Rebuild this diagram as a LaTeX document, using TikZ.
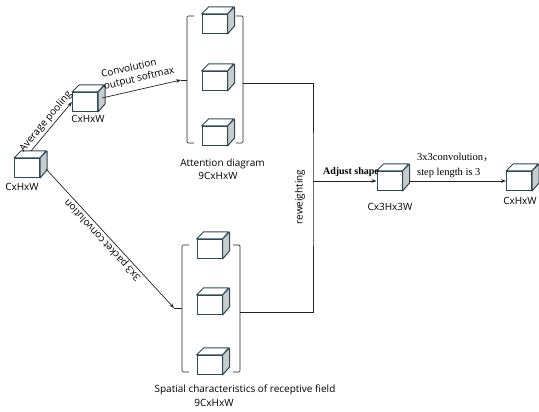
\documentclass[tikz,border=0pt]{standalone}
\usepackage{fontspec}
\setmainfont{Open Sans}
\newfontfamily\serifface{Liberation Serif}
\newfontfamily\cjk{Noto Sans CJK SC}
\usetikzlibrary{arrows.meta}

\definecolor{cubeline}{HTML}{2F4858}
\definecolor{cubeside}{HTML}{C9CCCC}
\definecolor{wirecol}{HTML}{222222}

\begin{document}
\begin{tikzpicture}[x=1pt,y=1pt,
  font=\fontsize{10}{12}\selectfont,
  cube/.style={draw=cubeline, fill=white, line width=1pt,
    minimum width=25pt, minimum height=19pt, inner sep=0pt},
  topface/.style={draw=cubeline, fill=white, line width=1pt, line join=round},
  sideface/.style={draw=cubeline, fill=cubeside, line width=1pt, line join=round},
  wire/.style={draw=wirecol, line width=0.7pt},
  arrow/.style={wire, -{Stealth[length=5pt,width=3.6pt]}},
  bracket/.style={draw=wirecol, line width=0.7pt, rounded corners=1pt},
  lbl/.style={inner sep=1pt},
]
\useasboundingbox (0,0) rectangle (539,412);

% ---- feature-map cubes (front faces) ----
\node[cube] (c0) at (27,244) {};
\node[cube] (c1) at (85,310) {};
\node[cube] (ta) at (214.5,388) {};
\node[cube] (tb) at (214.5,331) {};
\node[cube] (tc) at (214.5,276) {};
\node[cube] (ba) at (209.5,163) {};
\node[cube] (bb) at (209.5,107) {};
\node[cube] (bc) at (209.5,47) {};
\node[cube] (cm) at (389.5,231) {};
\node[cube] (co) at (519,231) {};

% top and side faces of every cube
\foreach \n in {c0,c1,ta,tb,tc,ba,bb,bc,cm,co}{
  \draw[topface] (\n.north west) -- ++(7,7) -- ++(25,0) -- (\n.north east) -- cycle;
  \draw[sideface] (\n.north east) -- ++(7,7) -- ++(0,-19) -- (\n.south east) -- cycle;
}

% ---- brackets round the two groups ----
\draw[bracket] (194,396) -- (187,396) -- (187,269) -- (194,269);
\draw[bracket] (236,396) -- (243,396) -- (243,269) -- (236,269);
\draw[bracket] (189,167) -- (182,167) -- (182,40) -- (189,40);
\draw[bracket] (233,167) -- (240,167) -- (240,40) -- (233,40);

\coordinate (tlnub) at (181,332);
\coordinate (trnub) at (243,329);
\coordinate (blnub) at (174,104);
\coordinate (brnub) at (240,100);
\coordinate (junc)  at (313,231);

\draw[wire] (187,332) -- (tlnub);
\draw[wire] (182,104) -- (blnub);

% ---- connectors ----
\draw[arrow] ([shift={(4,7)}]c0.north) -- (c1.west)
  node[midway, sloped, above=1pt, lbl] {Average pooling};
\draw[arrow] ([shift={(4,4)}]c1.east) -- (tlnub)
  node[midway, sloped, above=4pt, lbl, align=left] {Convolution\\output softmax};
\draw[arrow] ([shift={(6,-1)}]c0.east) -- (blnub)
  node[pos=0.48, rotate=132.7, anchor=south, lbl] {3x3 packet convolution};

\draw[wire] (trnub) -| (junc) |- (brnub);
\draw[arrow] (junc) -- (cm.west);
\draw[arrow] ([xshift=6]cm.east) -- (co.west);

% ---- labels ----
\node[lbl] (l0) at (22,225) {CxHxW};
\node[lbl] (l1) at (88,293) {CxHxW};
\node[lbl] (att) at (222.5,248) {Attention diagram};
\node[lbl] (attd) at (218,236) {9CxHxW};
\node[lbl] (spa) at (245,22) {Spatial characteristics of receptive field};
\node[lbl] (spad) at (214,9) {9CxHxW};
\node[lbl] (lm) at (390,205) {Cx3Hx3W};
\node[lbl] (lo) at (520,211) {CxHxW};
\node[lbl, rotate=90] (rw) at (300,215) {reweighting};
\node[lbl, font=\serifface\bfseries\fontsize{10}{12}\selectfont] (adj) at (351,240) {Adjust shape};
\node[lbl, anchor=south west, align=left,
  font=\serifface\fontsize{10.5}{15}\selectfont] (conv) at (416,233)
  {3x3convolution{\cjk ，}\\step length is 3};
\end{tikzpicture}
\end{document}
